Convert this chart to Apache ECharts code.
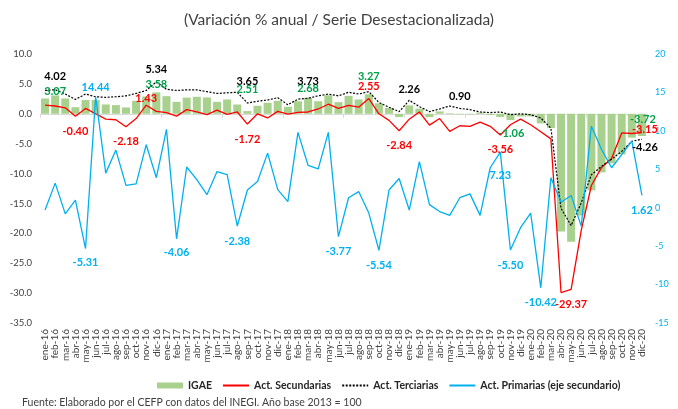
<!DOCTYPE html>
<html>
<head>
<meta charset="utf-8">
<script src="https://cdn.jsdelivr.net/npm/echarts@6/dist/echarts.min.js"></script>
<style>
  html, body { margin: 0; padding: 0; background: #fff; }
  #chart { width: 678px; height: 409px; }
</style>
</head>
<body>
<div id="chart"></div>
<script>
// categorías: ene-16 ... dic-20
const months = ['ene', 'feb', 'mar', 'abr', 'may', 'jun', 'jul', 'ago', 'sep', 'oct', 'nov', 'dic']
const years = ['16', '17', '18', '19', '20']
const categories = []
years.forEach(y => months.forEach(m => categories.push(m + '-' + y)))

const leftTicks = [-35, 10, 5]   // min, max, interval (eje principal)
const rightTicks = [-15, 20, 5]  // min, max, interval (eje secundario)

// IGAE (barras)
const igae = [
  2.56, 3.07, 2.56, 1.10, 2.30, 2.30, 1.56, 1.45, 1.06, 2.17, 2.90, 3.58,
  2.95, 2.00, 2.70, 2.84, 2.73, 2.00, 2.40, 1.55, 0.45, 1.34, 1.84, 2.17,
  1.17, 2.10, 2.68, 2.10, 3.10, 1.95, 3.00, 2.40, 3.27, 1.75, 0.98, -0.55,
  1.40, 0.85, -0.55, 0.40, 0.10, -0.10, -0.10, 0.20, -0.20, -0.55, -1.06, -0.45,
  -0.45, -1.60, -2.40, -19.70, -21.40, -17.00, -12.80, -9.80, -8.30, -6.80, -4.00, -3.72
]
// Actividades secundarias
const secundarias = [
  1.45, 1.30, 1.00, -0.40, 0.90, 0.00, -0.90, -1.00, -2.18, -0.80, 1.43, 0.40,
  0.20, -0.40, 0.70, 0.30, -0.15, 0.60, -0.10, 0.30, -1.72, 0.00, -0.70, 0.40,
  -0.05, 0.25, 0.30, 0.80, 1.60, 0.90, 1.40, 1.10, 2.55, 0.00, -1.10, -2.84,
  -0.90, 0.30, -1.90, -0.80, -2.95, -2.00, -2.10, -1.40, -2.10, -3.56, -1.84, -0.90,
  -1.84, -3.00, -4.20, -29.90, -29.37, -19.50, -12.00, -9.00, -7.50, -3.20, -3.30, -3.15
]
// Actividades terciarias
const terciarias = [
  3.90, 4.02, 3.30, 2.40, 3.30, 2.85, 2.75, 2.85, 3.00, 3.40, 3.90, 5.34,
  4.10, 3.90, 4.00, 4.00, 3.70, 3.40, 3.50, 3.60, 1.80, 2.10, 2.30, 2.70,
  1.50, 2.45, 2.60, 3.00, 3.30, 3.00, 3.60, 3.30, 3.70, 1.90, 1.10, 0.35,
  2.26, 1.20, 0.35, 0.80, 1.30, 0.90, 0.70, 0.30, 0.20, 0.30, -0.15, 0.00,
  -0.15, -0.70, -2.40, -15.80, -18.70, -14.90, -10.20, -8.80, -7.60, -6.30, -4.60, -4.26
]
// Actividades primarias (eje secundario)
const primarias = [
  -0.30, 3.20, -0.80, 1.00, -5.31, 14.44, 4.50, 7.50, 2.90, 3.10, 8.20, 3.90,
  10.20, -4.06, 5.30, 3.65, 1.70, 4.70, 4.30, -2.38, 2.30, 3.40, 7.10, 2.35,
  0.80, 9.80, 5.50, 5.05, 9.80, -3.77, 1.30, 2.10, -0.70, -5.54, 2.30, 3.80,
  -0.30, 6.00, 0.40, -0.50, -1.00, 1.30, 1.80, -1.00, 5.20, 7.23, -5.50, -2.60,
  -0.70, -10.42, 3.90, 0.70, 1.60, -2.40, 10.60, 7.60, 5.20, 6.90, 8.65, 1.62
]

// etiquetas de datos: [índice, texto]
const igaeTags = [[1, '3.07'], [11, '3.58'], [20, '2.51'], [26, '2.68'], [32, '3.27'], [46, '-1.06'], [59, '-3.72']]
const secundariasTags = [[3, '-0.40'], [10, '1.43'], [8, '-2.18'], [20, '-1.72'], [32, '2.55'], [35, '-2.84'], [45, '-3.56'], [59, '-3.15'], [52, '-29.37']]
const terciariasTags = [[1, '4.02'], [11, '5.34'], [20, '3.65'], [26, '3.73'], [36, '2.26'], [41, '0.90'], [59, '-4.26']]
const primariasTags = [[5, '14.44'], [4, '-5.31'], [13, '-4.06'], [19, '-2.38'], [29, '-3.77'], [33, '-5.54'], [45, '7.23'], [46, '-5.50'], [49, '-10.42'], [59, '1.62']]

// desplazamiento de cada etiqueta en px [dx, dy], mismo orden que arriba
const igaeNudge = [[0, -4], [0, -8], [0, -22], [0, -9], [0, -18], [1, 13], [1, -17]]
const secundariasNudge = [[0, 15], [0, -7], [0, 15], [0, 15], [0, -12], [0, 15], [0, 14], [3, -3], [0, 15]]
const terciariasNudge = [[0, -13], [0, -12], [0, -22], [0, -17], [0, -11], [0, -12], [3, 8]]
const primariasNudge = [[0, -9], [0, 14], [0, 14], [0, 15], [0, 15], [0, 15], [0, 23], [0, 15], [0, 15], [0, 15]]

const FONT = 'Lato, "Open Sans", sans-serif'
const GREEN = '#A9D18E'
const RED = '#FF0000'
const BLUE = '#00B0F0'

const tagPoints = (values, tags, nudge, color) => ({
  symbol: 'circle',
  symbolSize: 0,
  silent: true,
  label: {
    show: true,
    position: 'inside',
    formatter: '{b}',
    color: color,
    fontFamily: FONT,
    fontSize: 11,
    fontWeight: 'bold'
  },
  data: tags.map((t, k) => ({
    name: t[1],
    coord: [t[0], values[t[0]]],
    label: { offset: nudge[k] }
  }))
})

// en la leyenda las líneas van sin marcador
const noMarker = { color: 'rgba(0,0,0,0)', borderWidth: 0 }

const chart = echarts.init(document.getElementById('chart'))

const option = {
  animation: false,
  textStyle: { fontFamily: FONT },
  title: [
    {
      text: '(Variación % anual / Serie Desestacionalizada)',
      left: 'center',
      top: 7,
      textStyle: { fontSize: 15.5, fontWeight: 'normal', color: '#404040', fontFamily: FONT }
    },
    {
      text: 'Fuente: Elaborado por el CEFP con datos del INEGI. Año base 2013 = 100',
      left: 17,
      top: 392,
      textStyle: { fontSize: 10.5, fontWeight: 'normal', color: '#404040', fontFamily: FONT }
    }
  ],
  legend: {
    top: 375,
    left: 152,
    itemWidth: 26,
    itemHeight: 6,
    itemGap: 10,
    textStyle: { fontSize: 10.5, fontWeight: 'bold', color: '#262626', fontFamily: FONT },
    data: [
      { name: 'IGAE', icon: 'rect' },
      { name: 'Act. Secundarias', itemStyle: noMarker },
      { name: 'Act. Terciarias', itemStyle: noMarker },
      { name: 'Act. Primarias (eje secundario)', itemStyle: noMarker }
    ]
  },
  grid: { left: 40, right: 31, top: 54, bottom: 86 },
  xAxis: [
    {
      type: 'category',
      data: categories,
      position: 'bottom',
      axisLine: { show: false, onZero: false },
      axisTick: { show: false },
      axisLabel: { rotate: 90, interval: 0, fontSize: 10, color: '#404040', margin: 6 }
    },
    {
      type: 'category',
      data: categories,
      position: 'bottom',
      axisLine: { show: true, onZero: true, lineStyle: { color: '#d9d9d9', width: 1 } },
      axisTick: { show: true, length: 4, lineStyle: { color: '#d9d9d9' } },
      axisLabel: { show: false }
    }
  ],
  yAxis: [
    {
      type: 'value',
      min: leftTicks[0],
      max: leftTicks[1],
      interval: leftTicks[2],
      splitLine: { show: false },
      axisLine: { show: false },
      axisTick: { show: false },
      axisLabel: { fontSize: 9.5, color: '#404040', margin: 8, formatter: v => v.toFixed(1) }
    },
    {
      type: 'value',
      min: rightTicks[0],
      max: rightTicks[1],
      interval: rightTicks[2],
      position: 'right',
      splitLine: { show: false },
      axisLine: { show: false },
      axisTick: { show: false },
      axisLabel: { fontSize: 9, color: BLUE, margin: 8 }
    }
  ],
  series: [
    {
      name: 'IGAE',
      type: 'bar',
      data: igae,
      barWidth: 8,
      itemStyle: { color: GREEN },
      markPoint: tagPoints(igae, igaeTags, igaeNudge, '#00A04A')
    },
    {
      name: 'Act. Secundarias',
      type: 'line',
      data: secundarias,
      symbol: 'none',
      lineStyle: { color: RED, width: 1.3 },
      itemStyle: { color: RED },
      markPoint: tagPoints(secundarias, secundariasTags, secundariasNudge, RED)
    },
    {
      name: 'Act. Terciarias',
      type: 'line',
      data: terciarias,
      symbol: 'none',
      lineStyle: { color: '#000000', width: 1.2, type: [2, 1.5] },
      itemStyle: { color: '#000000' },
      markPoint: tagPoints(terciarias, terciariasTags, terciariasNudge, '#000000')
    },
    {
      name: 'Act. Primarias (eje secundario)',
      type: 'line',
      yAxisIndex: 1,
      data: primarias,
      symbol: 'none',
      lineStyle: { color: BLUE, width: 1.3 },
      itemStyle: { color: BLUE },
      markPoint: tagPoints(primarias, primariasTags, primariasNudge, BLUE)
    }
  ]
}

chart.setOption(option)

window.addEventListener('resize', () => chart.resize())
</script>
</body>
</html>
